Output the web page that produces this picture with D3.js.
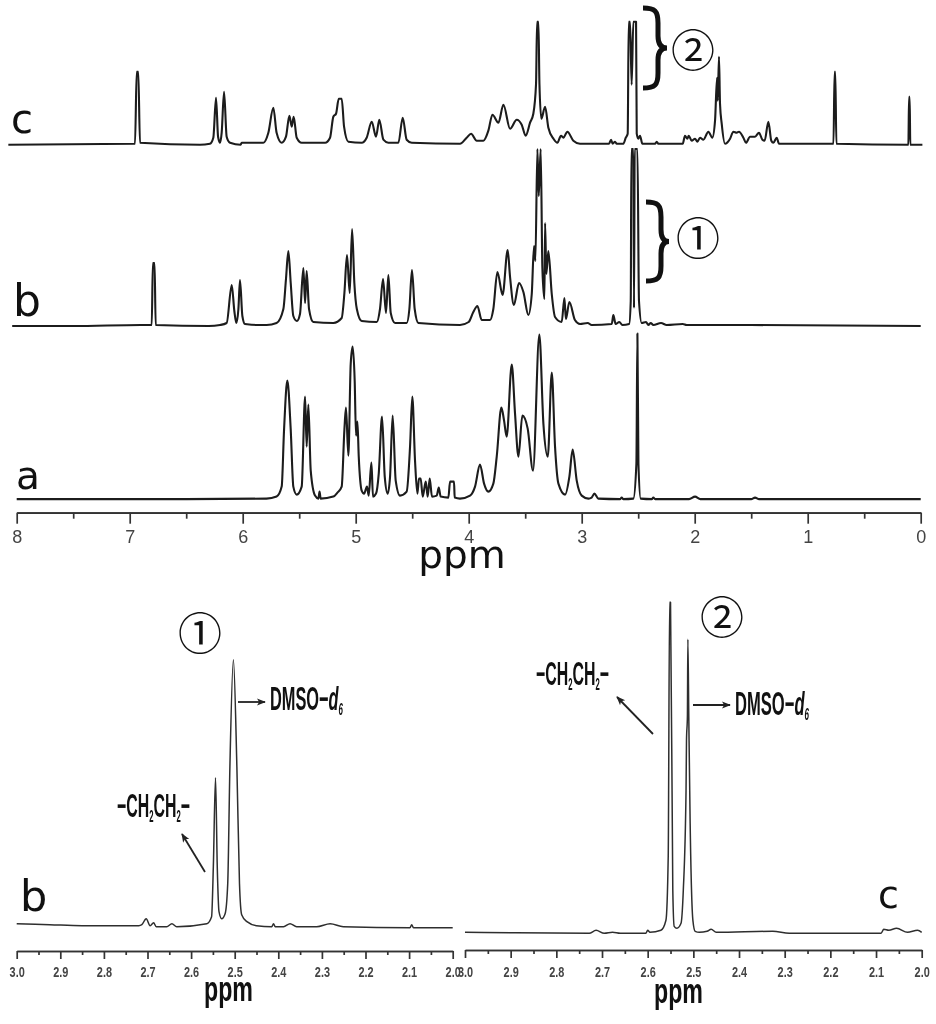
<!DOCTYPE html>
<html><head><meta charset="utf-8">
<script src="https://cdn.jsdelivr.net/npm/d3@7/dist/d3.min.js"></script>
<style>
html,body{margin:0;padding:0;background:#fff}
svg{display:block;filter:blur(0.45px)}
</style></head><body>
<svg id="c" width="936" height="1024"></svg>
<script>
// [ppm, intensity]
const spectrumA=[[8,0.5],[6.5,0.5],[5.79,1],[5.7,3],[5.655,13],[5.634,70],[5.605,119],[5.575,70],[5.552,13],[5.522,5],[5.478,13],[5.448,103],[5.434,53],[5.419,95],[5.398,29],[5.36,4],[5.33,1],[5.32,8],[5.31,1],[5.198,3],[5.162,7],[5.124,13],[5.1,70],[5.086,92],[5.065,44],[5.044,136],[5.027,153],[5.009,119],[4.997,64],[4.985,78],[4.973,43],[4.947,9],[4.926,6],[4.9,13],[4.885,4],[4.861,37],[4.847,3],[4.82,6],[4.796,26],[4.767,83],[4.743,23],[4.717,6],[4.696,23],[4.673,84],[4.646,19],[4.608,4],[4.549,8],[4.519,53],[4.499,103],[4.475,39],[4.454,6],[4.44,21],[4.425,21],[4.407,3],[4.38,18],[4.363,3],[4.345,21],[4.325,3],[4.283,4],[4.265,12],[4.248,3],[4.18,2],[4.165,18],[4.13,18],[4.124,2],[4.077,1],[3.988,4],[3.944,13],[3.9,35],[3.864,16],[3.826,8],[3.782,16],[3.752,43],[3.711,92],[3.687,79],[3.664,63],[3.619,135],[3.59,86],[3.56,43],[3.525,84],[3.478,71],[3.431,29],[3.375,165],[3.339,76],[3.3,43],[3.265,127],[3.236,53],[3.206,16],[3.147,5],[3.109,23],[3.08,50],[3.044,19],[3,4],[2.94,1],[2.912,2],[2.888,6],[2.853,1],[2.661,0.5],[2.646,2],[2.631,0.5],[2.543,1],[2.516,36],[2.507,166],[2.498,36],[2.478,1],[2.38,0.5],[2.366,2],[2.35,0.5],[2.05,0.5],[1.997,3],[1.95,0.5],[1.5,0.5],[1.466,2],[1.43,0.5],[0,0.5]];
const spectrumB=[[8.04,0],[7.5,0],[6.9,1],[6.805,1],[6.795,63],[6.78,63],[6.77,1],[6.3,0],[6.2,1],[6.142,3],[6.097,41],[6.074,15],[6.056,3],[6.038,17],[6.024,46],[6.003,10],[5.98,2],[5.85,1],[5.788,1],[5.7,3],[5.64,17],[5.617,47],[5.596,75],[5.575,43],[5.552,10],[5.52,5],[5.493,12],[5.463,58],[5.448,23],[5.434,55],[5.413,17],[5.375,4],[5.198,3],[5.124,8],[5.1,33],[5.077,71],[5.053,33],[5.032,97],[5.012,43],[4.99,17],[4.947,5],[4.814,4],[4.785,17],[4.758,47],[4.732,13],[4.711,51],[4.69,13],[4.652,3],[4.549,3],[4.525,17],[4.502,56],[4.478,17],[4.445,3],[4.077,1],[4,4],[3.959,14],[3.923,20],[3.885,6],[3.811,6],[3.782,17],[3.746,54],[3.7,31],[3.655,76],[3.634,49],[3.6,21],[3.555,43],[3.516,34],[3.472,11],[3.442,32],[3.422,80],[3.41,65],[3.392,177],[3.38,130],[3.363,177],[3.348,58],[3.33,27],[3.324,103],[3.313,52],[3.295,75],[3.265,32],[3.236,9],[3.177,4],[3.153,28],[3.14,7],[3.109,24],[3.06,6],[3.015,2],[2.947,3],[2.912,1],[2.734,2],[2.72,11],[2.7,2],[2.667,4],[2.64,1],[2.58,2],[2.566,25],[2.56,177],[2.543,177],[2.537,18],[2.531,177],[2.507,177],[2.493,25],[2.469,3],[2.431,4],[2.41,1],[2.389,3],[2.366,1],[2.298,3],[2.248,1],[2.106,2],[2.071,1],[1.5,1],[0,0]];
const spectrumC=[[8.074,0],[6.953,1],[6.938,73],[6.924,73],[6.909,2],[6.378,0],[6.29,1],[6.26,7],[6.236,47],[6.218,8],[6.2,2],[6.186,12],[6.165,53],[6.142,8],[6.112,2],[6.018,0],[6.009,2],[5.817,2],[5.773,12],[5.729,37],[5.7,12],[5.655,2],[5.617,8],[5.587,29],[5.566,18],[5.549,28],[5.522,7],[5.478,2],[5.271,2],[5.227,7],[5.198,28],[5.174,31],[5.15,46],[5.124,46],[5.103,18],[5.065,3],[4.947,2],[4.903,7],[4.858,23],[4.82,8],[4.791,25],[4.755,5],[4.711,2],[4.622,2],[4.584,27],[4.549,5],[4.504,2],[4.077,1],[4.018,7],[3.979,11],[3.929,4],[3.87,4],[3.826,14],[3.79,30],[3.737,22],[3.693,40],[3.634,16],[3.575,25],[3.531,20],[3.496,9],[3.457,22],[3.428,31],[3.404,61],[3.395,123],[3.383,123],[3.374,61],[3.357,26],[3.324,38],[3.295,17],[3.25,6],[3.215,2],[3.183,9],[3.162,7],[3.127,13],[3.074,4],[3.015,1],[2.758,1],[2.74,5],[2.726,1],[2.705,3],[2.69,1],[2.631,1],[2.61,7],[2.593,11],[2.584,123],[2.572,123],[2.558,60],[2.543,123],[2.519,123],[2.513,11],[2.499,6],[2.484,9],[2.463,1],[2.351,1],[2.336,3],[2.322,1],[2.106,1],[2.086,9],[2.065,6],[2.053,9],[2.027,4],[1.997,6],[1.976,3],[1.953,7],[1.923,5],[1.879,13],[1.844,7],[1.82,24],[1.802,67],[1.796,44],[1.785,88],[1.776,41],[1.761,21],[1.732,1],[1.687,6],[1.658,13],[1.628,12],[1.608,13],[1.569,7],[1.546,2],[1.51,8],[1.466,8],[1.431,12],[1.401,5],[1.381,4],[1.348,23],[1.322,4],[1.304,2],[1.274,7],[1.254,1],[0.772,1],[0.762,73],[0.756,73],[0.746,1],[0.109,0],[0.103,48],[0.098,48],[0.092,0],[-0.015,0]];
const insetB=[[3,3],[2.924,2],[2.85,1],[2.72,1],[2.713,2],[2.703,8],[2.694,1],[2.686,4],[2.68,0],[2.656,0],[2.644,3],[2.633,0],[2.564,3],[2.553,10],[2.549,60],[2.544,149],[2.54,60],[2.536,15],[2.53,8],[2.522,13],[2.516,43],[2.511,160],[2.503,267],[2.495,160],[2.489,43],[2.484,12],[2.472,5],[2.45,1],[2.415,0],[2.411,3],[2.407,0],[2.388,0],[2.373,3],[2.358,0],[2.312,0],[2.281,3],[2.251,0],[2.098,-1],[2.094,2],[2.09,-1],[2,-1]];
const insetC=[[3,1],[2.9,0.5],[2.728,0],[2.713,3],[2.695,0],[2.677,1],[2.66,0],[2.604,0],[2.6,3],[2.595,1],[2.571,3],[2.56,13],[2.555,77],[2.552,331],[2.55,331],[2.545,43],[2.542,7],[2.536,5],[2.527,10],[2.522,43],[2.516,143],[2.515,193],[2.513,217],[2.512,294],[2.51,217],[2.507,110],[2.501,13],[2.496,2],[2.487,1],[2.47,2],[2.461,4],[2.45,1],[2.326,2],[2.29,0],[2.089,0],[2.083,4],[2.072,3],[2.055,5],[2.031,1],[2.009,3],[2,1]];
const fullTicks=[8,7,6,5,4,3,2,1,0];
const fullMinor=[7.5,6.5,5.5,4.5,3.5,2.5,1.5,0.5];
const insetTicks=[3,2.9,2.8,2.7,2.6,2.5,2.4,2.3,2.2,2.1,2];
const insetMinor=[2.95,2.85,2.75,2.65,2.55,2.45,2.35,2.25,2.15,2.05];
const topLabels=["c","b","a"];

const svg=d3.select("#c");
const sans="'DejaVu Sans',sans-serif", narrow="'Liberation Sans Narrow','Liberation Sans',sans-serif", cjk="'Noto Sans CJK SC',sans-serif";
const line=(x,y)=>d3.line().x(d=>x(d[0])).y(d=>y(d[1])).curve(d3.curveMonotoneX);
function yS(base){return d3.scaleLinear().domain([0,100]).range([base,base-100]);}
function trace(data,x,base,w,col){
  svg.append("path").attr("d",line(x,yS(base))(data)).attr("fill","none").attr("stroke",col).attr("stroke-width",w).attr("stroke-linejoin","round");
}
function axis(x,y,major,minor,fmt,majLen,minLen,pad,font,size,col,weight,sx){
  const g=svg.append("g").attr("transform",`translate(0,${y})`);
  g.append("g").call(d3.axisBottom(x).tickValues(minor).tickSize(minLen).tickSizeOuter(0).tickFormat(""));
  const a=g.append("g").call(d3.axisBottom(x).tickValues(major).tickSize(majLen).tickSizeOuter(0).tickPadding(pad).tickFormat(fmt));
  g.selectAll("path,line").attr("stroke","#333").attr("stroke-width",1.7);
  a.selectAll("text").attr("font-family",font).attr("font-size",size).attr("fill",col).attr("font-weight",weight).attr("transform",`scale(${sx},1)`);
}
function label(t,x,y,size,font,weight,anchor){
  return svg.append("text").attr("x",x).attr("y",y).attr("font-size",size).attr("font-family",font).attr("font-weight",weight||"normal").attr("text-anchor",anchor||"start").attr("fill","#111").text(t);
}
function fit(node,x,y,w){
  const L=node.node().getComputedTextLength();
  node.attr("x",null).attr("y",null).attr("transform",`translate(${x},${y}) scale(${w/L},1)`);
}
function chemCH(x,y,w){
  const t=svg.append("text").attr("font-family",narrow).attr("font-weight","bold").attr("font-size",33).attr("fill","#111");
  t.append("tspan").text("−CH");
  t.append("tspan").attr("font-size",16).attr("dy",5).text("2");
  t.append("tspan").attr("dy",-5).text("CH");
  t.append("tspan").attr("font-size",16).attr("dy",5).text("2");
  t.append("tspan").attr("dy",-5).text("−");
  fit(t,x,y,w);
}
function chemDMSO(x,y,w){
  const t=svg.append("text").attr("font-family",narrow).attr("font-weight","bold").attr("font-size",33).attr("fill","#111");
  t.append("tspan").text("DMSO−");
  t.append("tspan").attr("font-style","italic").text("d");
  t.append("tspan").attr("font-size",16).attr("font-style","italic").attr("dy",5).text("6");
  fit(t,x,y,w);
}
function arrow(x1,y1,x2,y2){
  svg.append("line").attr("x1",x1).attr("y1",y1).attr("x2",x2).attr("y2",y2).attr("stroke","#222").attr("stroke-width",1.8).attr("marker-end","url(#ah)");
}
function brace(x0,yTop,yBot,xMid,xTip){
  const c=(yTop+yBot)/2;
  const p=d3.path();
  p.moveTo(x0,yTop);
  p.bezierCurveTo(x0+12,yTop,xMid,yTop+3,xMid,yTop+15);
  p.lineTo(xMid,c-12);
  p.bezierCurveTo(xMid,c-4,xMid+3,c,xTip,c);
  p.bezierCurveTo(xMid+3,c,xMid,c+4,xMid,c+12);
  p.lineTo(xMid,yBot-15);
  p.bezierCurveTo(xMid,yBot-3,x0+12,yBot,x0,yBot);
  svg.append("path").attr("d",p.toString()).attr("fill","none").attr("stroke","#111").attr("stroke-width",5);
}
svg.append("defs").append("marker").attr("id","ah").attr("viewBox","0 0 10 10").attr("refX",9).attr("refY",5)
  .attr("markerWidth",5).attr("markerHeight",5).attr("orient","auto").attr("markerUnits","strokeWidth")
  .append("path").attr("d","M0,1L10,5L0,9L2.5,5Z").attr("fill","#222");

const xTop=d3.scaleLinear().domain([8,0]).range([16.7,920.7]);
trace(spectrumC,xTop,144.7,2.1,"#1c1c1c");
trace(spectrumB,xTop,326,2.1,"#1c1c1c");
trace(spectrumA,xTop,499.6,2.1,"#1c1c1c");
axis(xTop,512.7,fullTicks,fullMinor,d3.format("d"),11,6,7,"'Liberation Sans',sans-serif",18,"#444","normal",1);
label(topLabels[0],11,133,40,sans);
label(topLabels[1],13,316,44,sans);
label(topLabels[2],16,489,39,sans);
label("ppm",462,568,39,sans,"normal","middle");
brace(643,8,88,658,667);
brace(646,202,281,661,669);
const circ=(t,x,y)=>label(t,x,y,44,cjk,"normal","middle");
circ("②",693,67);circ("①",698,255);circ("①",200,650);circ("②",722,634);

const xL=d3.scaleLinear().domain([3,2]).range([16.7,452.7]);
const xR=d3.scaleLinear().domain([3,2]).range([465,921.7]);
trace(insetB,xL,926.7,1.5,"#2e2e2e");
trace(insetC,xR,933.3,1.5,"#2e2e2e");
axis(xL,951,insetTicks,insetMinor,d3.format(".1f"),8,4,8,narrow,14,"#444","bold",0.78);
axis(xR,950,insetTicks,insetMinor,d3.format(".1f"),8,4,9,narrow,14,"#444","bold",0.78);
label(topLabels[1],20,911,43,sans);
label(topLabels[0],878,908,38,sans);
fit(label("ppm",0,0,36,narrow,"bold"),204,1001,49);
fit(label("ppm",0,0,36,narrow,"bold"),654,1003,49);
chemCH(117,817,73);chemCH(536,685,73);
chemDMSO(270,710,73);chemDMSO(735,715,74);
arrow(238,702,265,702);arrow(205,872,182,834);
arrow(693,705,730,705);arrow(653,734,617,697);
</script>
</body></html>
